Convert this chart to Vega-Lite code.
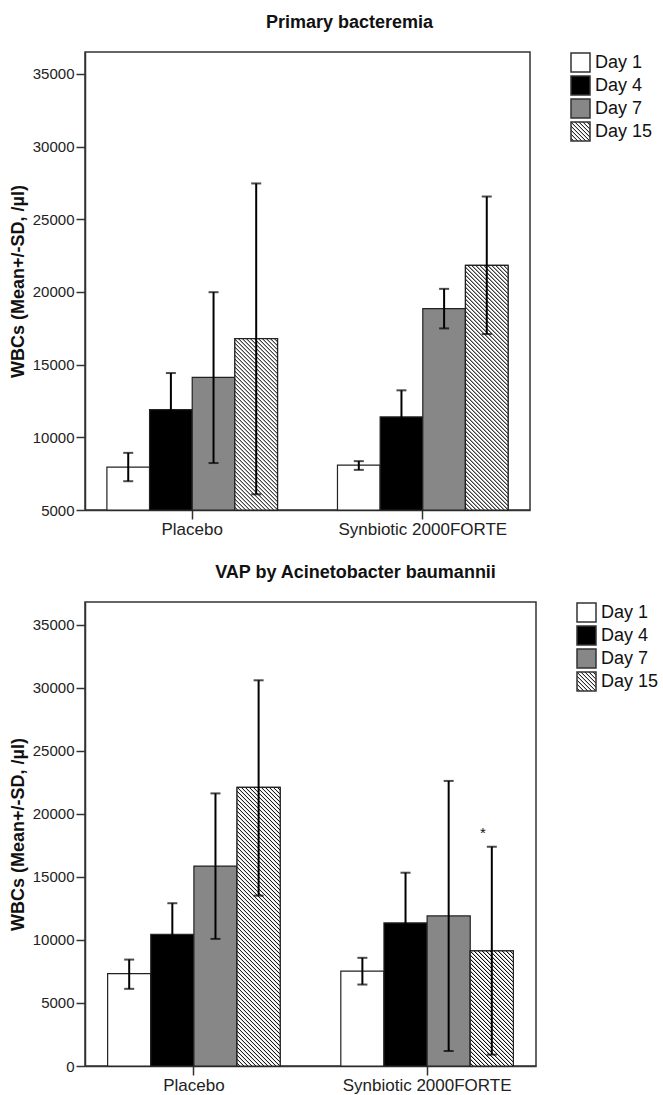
{
  "$schema": "https://vega.github.io/schema/vega-lite/v6.json",
  "padding": {"left": 8, "top": 13, "right": 5, "bottom": 0},
  "params": [
    {"name": "hatch", "value": [
      {"offset":0,"color":"#fff"},{"offset":0.0045,"color":"#fff"},{"offset":0.007,"color":"#000"},
      {"offset":0.01,"color":"#fff"},{"offset":0.0145,"color":"#fff"},{"offset":0.017,"color":"#000"},
      {"offset":0.02,"color":"#fff"},{"offset":0.0245,"color":"#fff"},{"offset":0.027,"color":"#000"},
      {"offset":0.03,"color":"#fff"},{"offset":0.0345,"color":"#fff"},{"offset":0.037,"color":"#000"},
      {"offset":0.04,"color":"#fff"},{"offset":0.0445,"color":"#fff"},{"offset":0.047,"color":"#000"},
      {"offset":0.05,"color":"#fff"},{"offset":0.0545,"color":"#fff"},{"offset":0.057,"color":"#000"},
      {"offset":0.06,"color":"#fff"},{"offset":0.0645,"color":"#fff"},{"offset":0.067,"color":"#000"},
      {"offset":0.07,"color":"#fff"},{"offset":0.0745,"color":"#fff"},{"offset":0.077,"color":"#000"},
      {"offset":0.08,"color":"#fff"},{"offset":0.0845,"color":"#fff"},{"offset":0.087,"color":"#000"},
      {"offset":0.09,"color":"#fff"},{"offset":0.0945,"color":"#fff"},{"offset":0.097,"color":"#000"},
      {"offset":0.10,"color":"#fff"},{"offset":0.1045,"color":"#fff"},{"offset":0.107,"color":"#000"},
      {"offset":0.11,"color":"#fff"},{"offset":0.1145,"color":"#fff"},{"offset":0.117,"color":"#000"},
      {"offset":0.12,"color":"#fff"},{"offset":0.1245,"color":"#fff"},{"offset":0.127,"color":"#000"},
      {"offset":0.13,"color":"#fff"},{"offset":0.1345,"color":"#fff"},{"offset":0.137,"color":"#000"},
      {"offset":0.14,"color":"#fff"},{"offset":0.1445,"color":"#fff"},{"offset":0.147,"color":"#000"},
      {"offset":0.15,"color":"#fff"},{"offset":0.1545,"color":"#fff"},{"offset":0.157,"color":"#000"},
      {"offset":0.16,"color":"#fff"},{"offset":0.1645,"color":"#fff"},{"offset":0.167,"color":"#000"},
      {"offset":0.17,"color":"#fff"},{"offset":0.1745,"color":"#fff"},{"offset":0.177,"color":"#000"},
      {"offset":0.18,"color":"#fff"},{"offset":0.1845,"color":"#fff"},{"offset":0.187,"color":"#000"},
      {"offset":0.19,"color":"#fff"},{"offset":0.1945,"color":"#fff"},{"offset":0.197,"color":"#000"},
      {"offset":0.20,"color":"#fff"},{"offset":0.2045,"color":"#fff"},{"offset":0.207,"color":"#000"},
      {"offset":0.21,"color":"#fff"},{"offset":0.2145,"color":"#fff"},{"offset":0.217,"color":"#000"},
      {"offset":0.22,"color":"#fff"},{"offset":0.2245,"color":"#fff"},{"offset":0.227,"color":"#000"},
      {"offset":0.23,"color":"#fff"},{"offset":0.2345,"color":"#fff"},{"offset":0.237,"color":"#000"},
      {"offset":0.24,"color":"#fff"},{"offset":0.2445,"color":"#fff"},{"offset":0.247,"color":"#000"},
      {"offset":0.25,"color":"#fff"},{"offset":0.2545,"color":"#fff"},{"offset":0.257,"color":"#000"},
      {"offset":0.26,"color":"#fff"},{"offset":0.2645,"color":"#fff"},{"offset":0.267,"color":"#000"},
      {"offset":0.27,"color":"#fff"},{"offset":0.2745,"color":"#fff"},{"offset":0.277,"color":"#000"},
      {"offset":0.28,"color":"#fff"},{"offset":0.2845,"color":"#fff"},{"offset":0.287,"color":"#000"},
      {"offset":0.29,"color":"#fff"},{"offset":0.2945,"color":"#fff"},{"offset":0.297,"color":"#000"},
      {"offset":0.30,"color":"#fff"},{"offset":0.3045,"color":"#fff"},{"offset":0.307,"color":"#000"},
      {"offset":0.31,"color":"#fff"},{"offset":0.3145,"color":"#fff"},{"offset":0.317,"color":"#000"},
      {"offset":0.32,"color":"#fff"},{"offset":0.3245,"color":"#fff"},{"offset":0.327,"color":"#000"},
      {"offset":0.33,"color":"#fff"},{"offset":0.3345,"color":"#fff"},{"offset":0.337,"color":"#000"},
      {"offset":0.34,"color":"#fff"},{"offset":0.3445,"color":"#fff"},{"offset":0.347,"color":"#000"},
      {"offset":0.35,"color":"#fff"},{"offset":0.3545,"color":"#fff"},{"offset":0.357,"color":"#000"},
      {"offset":0.36,"color":"#fff"},{"offset":0.3645,"color":"#fff"},{"offset":0.367,"color":"#000"},
      {"offset":0.37,"color":"#fff"},{"offset":0.3745,"color":"#fff"},{"offset":0.377,"color":"#000"},
      {"offset":0.38,"color":"#fff"},{"offset":0.3845,"color":"#fff"},{"offset":0.387,"color":"#000"},
      {"offset":0.39,"color":"#fff"},{"offset":0.3945,"color":"#fff"},{"offset":0.397,"color":"#000"},
      {"offset":0.40,"color":"#fff"},{"offset":0.4045,"color":"#fff"},{"offset":0.407,"color":"#000"},
      {"offset":0.41,"color":"#fff"},{"offset":0.4145,"color":"#fff"},{"offset":0.417,"color":"#000"},
      {"offset":0.42,"color":"#fff"},{"offset":0.4245,"color":"#fff"},{"offset":0.427,"color":"#000"},
      {"offset":0.43,"color":"#fff"},{"offset":0.4345,"color":"#fff"},{"offset":0.437,"color":"#000"},
      {"offset":0.44,"color":"#fff"},{"offset":0.4445,"color":"#fff"},{"offset":0.447,"color":"#000"},
      {"offset":0.45,"color":"#fff"},{"offset":0.4545,"color":"#fff"},{"offset":0.457,"color":"#000"},
      {"offset":0.46,"color":"#fff"},{"offset":0.4645,"color":"#fff"},{"offset":0.467,"color":"#000"},
      {"offset":0.47,"color":"#fff"},{"offset":0.4745,"color":"#fff"},{"offset":0.477,"color":"#000"},
      {"offset":0.48,"color":"#fff"},{"offset":0.4845,"color":"#fff"},{"offset":0.487,"color":"#000"},
      {"offset":0.49,"color":"#fff"},{"offset":0.4945,"color":"#fff"},{"offset":0.497,"color":"#000"},
      {"offset":0.50,"color":"#fff"},{"offset":0.5045,"color":"#fff"},{"offset":0.507,"color":"#000"},
      {"offset":0.51,"color":"#fff"},{"offset":0.5145,"color":"#fff"},{"offset":0.517,"color":"#000"},
      {"offset":0.52,"color":"#fff"},{"offset":0.5245,"color":"#fff"},{"offset":0.527,"color":"#000"},
      {"offset":0.53,"color":"#fff"},{"offset":0.5345,"color":"#fff"},{"offset":0.537,"color":"#000"},
      {"offset":0.54,"color":"#fff"},{"offset":0.5445,"color":"#fff"},{"offset":0.547,"color":"#000"},
      {"offset":0.55,"color":"#fff"},{"offset":0.5545,"color":"#fff"},{"offset":0.557,"color":"#000"},
      {"offset":0.56,"color":"#fff"},{"offset":0.5645,"color":"#fff"},{"offset":0.567,"color":"#000"},
      {"offset":0.57,"color":"#fff"},{"offset":0.5745,"color":"#fff"},{"offset":0.577,"color":"#000"},
      {"offset":0.58,"color":"#fff"},{"offset":0.5845,"color":"#fff"},{"offset":0.587,"color":"#000"},
      {"offset":0.59,"color":"#fff"},{"offset":0.5945,"color":"#fff"},{"offset":0.597,"color":"#000"},
      {"offset":0.60,"color":"#fff"},{"offset":0.6045,"color":"#fff"},{"offset":0.607,"color":"#000"},
      {"offset":0.61,"color":"#fff"},{"offset":0.6145,"color":"#fff"},{"offset":0.617,"color":"#000"},
      {"offset":0.62,"color":"#fff"},{"offset":0.6245,"color":"#fff"},{"offset":0.627,"color":"#000"},
      {"offset":0.63,"color":"#fff"},{"offset":0.6345,"color":"#fff"},{"offset":0.637,"color":"#000"},
      {"offset":0.64,"color":"#fff"},{"offset":0.6445,"color":"#fff"},{"offset":0.647,"color":"#000"},
      {"offset":0.65,"color":"#fff"},{"offset":0.6545,"color":"#fff"},{"offset":0.657,"color":"#000"},
      {"offset":0.66,"color":"#fff"},{"offset":0.6645,"color":"#fff"},{"offset":0.667,"color":"#000"},
      {"offset":0.67,"color":"#fff"},{"offset":0.6745,"color":"#fff"},{"offset":0.677,"color":"#000"},
      {"offset":0.68,"color":"#fff"},{"offset":0.6845,"color":"#fff"},{"offset":0.687,"color":"#000"},
      {"offset":0.69,"color":"#fff"},{"offset":0.6945,"color":"#fff"},{"offset":0.697,"color":"#000"},
      {"offset":0.70,"color":"#fff"},{"offset":0.7045,"color":"#fff"},{"offset":0.707,"color":"#000"},
      {"offset":0.71,"color":"#fff"},{"offset":0.7145,"color":"#fff"},{"offset":0.717,"color":"#000"},
      {"offset":0.72,"color":"#fff"},{"offset":0.7245,"color":"#fff"},{"offset":0.727,"color":"#000"},
      {"offset":0.73,"color":"#fff"},{"offset":0.7345,"color":"#fff"},{"offset":0.737,"color":"#000"},
      {"offset":0.74,"color":"#fff"},{"offset":0.7445,"color":"#fff"},{"offset":0.747,"color":"#000"},
      {"offset":0.75,"color":"#fff"},{"offset":0.7545,"color":"#fff"},{"offset":0.757,"color":"#000"},
      {"offset":0.76,"color":"#fff"},{"offset":0.7645,"color":"#fff"},{"offset":0.767,"color":"#000"},
      {"offset":0.77,"color":"#fff"},{"offset":0.7745,"color":"#fff"},{"offset":0.777,"color":"#000"},
      {"offset":0.78,"color":"#fff"},{"offset":0.7845,"color":"#fff"},{"offset":0.787,"color":"#000"},
      {"offset":0.79,"color":"#fff"},{"offset":0.7945,"color":"#fff"},{"offset":0.797,"color":"#000"},
      {"offset":0.80,"color":"#fff"},{"offset":0.8045,"color":"#fff"},{"offset":0.807,"color":"#000"},
      {"offset":0.81,"color":"#fff"},{"offset":0.8145,"color":"#fff"},{"offset":0.817,"color":"#000"}
    ]}
  ],
  "datasets": {
    "bact": [
      {"group": "Placebo", "day": "Day 1", "mean": 7950, "lo": 6980, "hi": 8930},
      {"group": "Placebo", "day": "Day 4", "mean": 11900, "lo": 9380, "hi": 14420},
      {"group": "Placebo", "day": "Day 7", "mean": 14120, "lo": 8230, "hi": 19980},
      {"group": "Placebo", "day": "Day 15", "mean": 16780, "lo": 6080, "hi": 27460},
      {"group": "Synbiotic 2000FORTE", "day": "Day 1", "mean": 8080, "lo": 7760, "hi": 8360},
      {"group": "Synbiotic 2000FORTE", "day": "Day 4", "mean": 11400, "lo": 9570, "hi": 13230},
      {"group": "Synbiotic 2000FORTE", "day": "Day 7", "mean": 18850, "lo": 17490, "hi": 20210},
      {"group": "Synbiotic 2000FORTE", "day": "Day 15", "mean": 21820, "lo": 17100, "hi": 26560}
    ],
    "vap": [
      {"group": "Placebo", "day": "Day 1", "mean": 7330, "lo": 6120, "hi": 8440},
      {"group": "Placebo", "day": "Day 4", "mean": 10450, "lo": 7990, "hi": 12910},
      {"group": "Placebo", "day": "Day 7", "mean": 15860, "lo": 10080, "hi": 21620},
      {"group": "Placebo", "day": "Day 15", "mean": 22090, "lo": 13510, "hi": 30590},
      {"group": "Synbiotic 2000FORTE", "day": "Day 1", "mean": 7520, "lo": 6460, "hi": 8580},
      {"group": "Synbiotic 2000FORTE", "day": "Day 4", "mean": 11350, "lo": 7370, "hi": 15330},
      {"group": "Synbiotic 2000FORTE", "day": "Day 7", "mean": 11900, "lo": 1190, "hi": 22610},
      {"group": "Synbiotic 2000FORTE", "day": "Day 15", "mean": 9130, "lo": 900, "hi": 17390, "note": "*"}
    ]
  },
  "spacing": 25,
  "vconcat": [
    {
      "title": {"text": "Primary bacteremia", "dx": 42},
      "width": 445,
      "height": 458,
      "data": {"name": "bact"},
      "encoding": {
        "x": {"field": "group", "type": "nominal", "sort": null, "scale": {"paddingInner": 0.26, "paddingOuter": 0.095}, "axis": {"title": null}},
        "xOffset": {"field": "day", "type": "nominal", "scale": {"domain": ["Day 1", "Day 4", "Day 7", "Day 15"]}}
      },
      "layer": [
        {
          "mark": {"type": "bar", "stroke": "#222", "strokeWidth": 1.2},
          "encoding": {
            "y": {"field": "mean", "type": "quantitative", "title": "WBCs (Mean+/-SD, /µl)", "scale": {"domain": [5000, 36500], "nice": false, "zero": false}, "axis": {"values": [5000, 10000, 15000, 20000, 25000, 30000, 35000], "format": "d"}},
            "y2": {"datum": 5000},
            "fill": {"field": "day", "type": "nominal", "legend": {"title": null}, "scale": {"domain": ["Day 1", "Day 4", "Day 7", "Day 15"], "range": ["#ffffff", "#000000", "#878787", {"expr": "{gradient:'linear',x1:0,y1:1,x2:10.53,y2:-9.53,stops:hatch}"}]}}
          }
        },
        {
          "transform": [{"filter": "datum.day === 'Day 15'"}],
          "mark": {"type": "bar", "stroke": "#222", "strokeWidth": 1.2, "fill": {"expr": "{gradient:'linear',x1:0,y1:1,x2:17060/(1819+pow(458*(datum.mean-5000)/31500,2)),y2:1-400*(458*(datum.mean-5000)/31500)/(1819+pow(458*(datum.mean-5000)/31500,2)),stops:hatch}"}},
          "encoding": {
            "y": {"field": "mean", "type": "quantitative", "title": "WBCs (Mean+/-SD, /µl)"},
            "y2": {"datum": 5000}
          }
        },
        {
          "mark": {"type": "rule", "color": "#000", "strokeWidth": 2},
          "encoding": {
            "y": {"field": "lo", "type": "quantitative", "title": "WBCs (Mean+/-SD, /µl)"},
            "y2": {"field": "hi"}
          }
        },
        {
          "mark": {"type": "tick", "color": "#000", "thickness": 2, "size": 10},
          "encoding": {"y": {"field": "hi", "type": "quantitative", "title": "WBCs (Mean+/-SD, /µl)"}}
        },
        {
          "mark": {"type": "tick", "color": "#000", "thickness": 2, "size": 10},
          "encoding": {"y": {"field": "lo", "type": "quantitative", "title": "WBCs (Mean+/-SD, /µl)"}}
        }
      ]
    },
    {
      "title": {"text": "VAP by Acinetobacter baumannii", "dx": 45},
      "width": 451,
      "height": 464,
      "data": {"name": "vap"},
      "encoding": {
        "x": {"field": "group", "type": "nominal", "sort": null, "scale": {"paddingInner": 0.26, "paddingOuter": 0.097}, "axis": {"title": null}},
        "xOffset": {"field": "day", "type": "nominal", "scale": {"domain": ["Day 1", "Day 4", "Day 7", "Day 15"]}}
      },
      "layer": [
        {
          "mark": {"type": "bar", "stroke": "#222", "strokeWidth": 1.2},
          "encoding": {
            "y": {"field": "mean", "type": "quantitative", "title": "WBCs (Mean+/-SD, /µl)", "scale": {"domain": [0, 36800], "nice": false}, "axis": {"values": [0, 5000, 10000, 15000, 20000, 25000, 30000, 35000], "format": "d"}},
            "y2": {"datum": 0},
            "fill": {"field": "day", "type": "nominal", "legend": {"title": null}, "scale": {"domain": ["Day 1", "Day 4", "Day 7", "Day 15"], "range": ["#ffffff", "#000000", "#878787", {"expr": "{gradient:'linear',x1:0,y1:1,x2:10.53,y2:-9.53,stops:hatch}"}]}}
          }
        },
        {
          "transform": [{"filter": "datum.day === 'Day 15'"}],
          "mark": {"type": "bar", "stroke": "#222", "strokeWidth": 1.2, "fill": {"expr": "{gradient:'linear',x1:0,y1:1,x2:17240/(1858+pow(464*datum.mean/36800,2)),y2:1-400*(464*datum.mean/36800)/(1858+pow(464*datum.mean/36800,2)),stops:hatch}"}},
          "encoding": {
            "y": {"field": "mean", "type": "quantitative", "title": "WBCs (Mean+/-SD, /µl)"},
            "y2": {"datum": 0}
          }
        },
        {
          "mark": {"type": "rule", "color": "#000", "strokeWidth": 2},
          "encoding": {
            "y": {"field": "lo", "type": "quantitative", "title": "WBCs (Mean+/-SD, /µl)"},
            "y2": {"field": "hi"}
          }
        },
        {
          "mark": {"type": "tick", "color": "#000", "thickness": 2, "size": 10},
          "encoding": {"y": {"field": "hi", "type": "quantitative", "title": "WBCs (Mean+/-SD, /µl)"}}
        },
        {
          "mark": {"type": "tick", "color": "#000", "thickness": 2, "size": 10},
          "encoding": {"y": {"field": "lo", "type": "quantitative", "title": "WBCs (Mean+/-SD, /µl)"}}
        },
        {
          "transform": [{"filter": "isValid(datum.note)"}],
          "mark": {"type": "text", "fontSize": 15, "dx": -9, "dy": -9, "baseline": "alphabetic", "color": "#111"},
          "encoding": {
            "y": {"field": "hi", "type": "quantitative", "title": "WBCs (Mean+/-SD, /µl)"},
            "text": {"field": "note"}
          }
        }
      ]
    }
  ],
  "resolve": {
    "scale": {"x": "independent", "y": "independent", "xOffset": "independent", "fill": "independent"},
    "legend": {"fill": "independent"}
  },
  "config": {
    "font": "Liberation Sans",
    "view": {"stroke": "#333", "strokeWidth": 1.5},
    "axis": {"grid": false, "domainColor": "#333", "domainWidth": 1.5, "tickColor": "#333", "tickWidth": 1.5, "labelColor": "#222", "labelFont": "Liberation Sans", "titleFont": "Liberation Sans"},
    "axisY": {"labelFontSize": 15, "tickSize": 9, "labelPadding": 2, "titleFontSize": 18, "titleFontWeight": "bold", "titleColor": "#111", "titlePadding": 5},
    "axisX": {"labelFontSize": 17, "tickSize": 9, "labelPadding": 2, "labelAngle": 0},
    "legend": {"orient": "right", "offset": 40, "symbolType": "square", "symbolSize": 361, "symbolStrokeColor": "#333", "symbolStrokeWidth": 1.5, "symbolOpacity": 1, "labelFontSize": 18, "labelColor": "#111", "labelFont": "Liberation Sans", "labelOffset": 4, "rowPadding": -2, "padding": 0},
    "title": {"fontSize": 18, "fontWeight": "bold", "color": "#111", "font": "Liberation Sans", "offset": 20}
  }
}
